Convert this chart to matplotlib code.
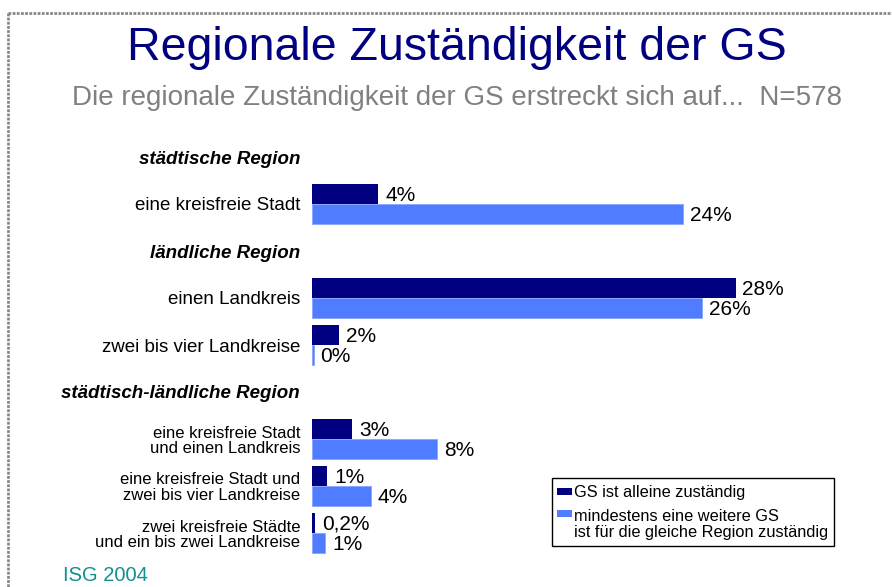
import matplotlib
matplotlib.use('Agg')
from matplotlib import pyplot as plt
from matplotlib.lines import Line2D
from matplotlib.patches import Rectangle

plt.rcParams['font.family'] = ['Liberation Sans', 'DejaVu Sans']

# Daten
headers = ['städtische Region', 'ländliche Region', 'städtisch-ländliche Region']
categories = ['eine kreisfreie Stadt',
              'einen Landkreis',
              'zwei bis vier Landkreise',
              'eine kreisfreie Stadt\nund einen Landkreis',
              'eine kreisfreie Stadt und\nzwei bis vier Landkreise',
              'zwei kreisfreie Städte\nund ein bis zwei Landkreise']
allein = [4.3, 27.5, 1.75, 2.6, 1.0, 0.2]
weitere = [24.1, 25.3, 0.1, 8.1, 3.8, 0.85]
allein_labels = ['4%', '28%', '2%', '3%', '1%', '0,2%']
weitere_labels = ['24%', '26%', '0%', '8%', '4%', '1%']
series_names = ['GS ist alleine zuständig',
                'mindestens eine weitere GS\nist für die gleiche Region zuständig']

# Zeilen-Positionen (Überschriften dazwischen)
header_pos = [0, 2, 5]
cat_pos = [1, 3, 4, 6, 7, 8]

W, H = 892, 587
fig = plt.figure(figsize=(W / 100, H / 100), dpi=100)

def fx(px):
    return px / W

def fy(py):
    return 1 - py / H

ax = fig.add_axes([fx(312), fy(556.5), fx(462), (556.5 - 133.5) / H])
dark = '#000080'
light = '#507CFF'
h = 0.436

for i, y in enumerate(cat_pos):
    ax.barh(y - h / 2, allein[i], height=h, color=dark, edgecolor='none')
    ax.barh(y + h / 2, weitere[i], height=h, color=light, edgecolor='#8aa5ff', linewidth=0.6)
    ax.annotate(allein_labels[i], (allein[i], y - h / 2 + 0.03), xytext=(5, 0),
                textcoords='offset points', va='center', ha='left', fontsize=15)
    ax.annotate(weitere_labels[i], (weitere[i], y + h / 2 + 0.03), xytext=(5, 0),
                textcoords='offset points', va='center', ha='left', fontsize=15)

ax.set_xlim(0, 30)
ax.set_ylim(8.5, -0.5)
ticks = header_pos + cat_pos
labels = headers + categories
ax.set_yticks(ticks)
ax.set_yticklabels(labels)
ax.tick_params(axis='y', length=0, pad=8.6)
ax.set_xticks([])
for s in ax.spines.values():
    s.set_visible(False)

for t in ax.get_yticklabels():
    txt = t.get_text()
    t.set_multialignment('right')
    if txt in headers:
        t.set_fontweight('bold')
        t.set_fontstyle('italic')
        t.set_fontsize(13.5)
    elif '\n' in txt:
        t.set_fontsize(12)
        t.set_linespacing(1.05)
    else:
        t.set_fontsize(13.5)

# Titel
fig.text(fx(457), fy(60), 'Regionale Zuständigkeit der GS', ha='center', va='baseline',
         fontsize=33.5, color='#000080')
fig.text(fx(457), fy(105), 'Die regionale Zuständigkeit der GS erstreckt sich auf...  N=578',
         ha='center', va='baseline', fontsize=20, color='#808080')

# Rahmen (gepunktet)
fig.add_artist(Line2D([fx(8), 1], [fy(12.5), fy(12.5)], color='#888888', lw=2,
                      linestyle=(0, (1, 0.5))))
fig.add_artist(Line2D([fx(8), fx(8)], [fy(12.5), 0], color='#888888', lw=2,
                      linestyle=(0, (1, 0.5))))

# Legende
fig.add_artist(Rectangle((fx(552), fy(546)), fx(282), (546 - 478) / H,
                         facecolor='white', edgecolor='black', lw=1))
fig.add_artist(Rectangle((fx(557), fy(495)), fx(15), 7 / H, facecolor=dark, edgecolor='none'))
fig.add_artist(Rectangle((fx(557), fy(517)), fx(15), 7 / H, facecolor=light, edgecolor='none'))
fig.text(fx(574), fy(492), series_names[0], ha='left', va='center', fontsize=11.8)
fig.text(fx(574), fy(524.5), series_names[1], ha='left', va='center', fontsize=11.8,
         linespacing=1.15)

fig.text(fx(63), fy(566), 'ISG 2004', ha='left', va='top', fontsize=14.5, color='#119090')

plt.savefig('out.png', dpi=100)
